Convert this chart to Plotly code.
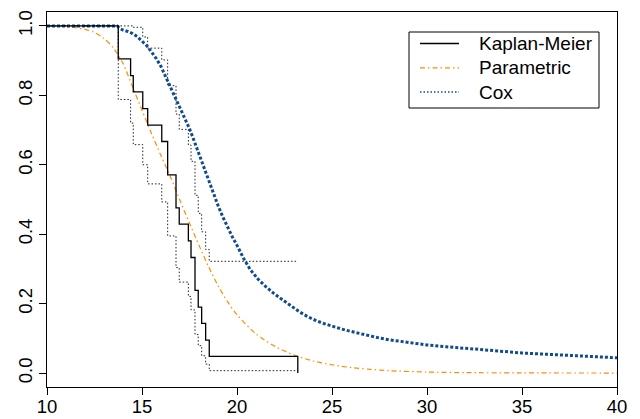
import plotly.graph_objects as go

# Kaplan-Meier step curve (time, survival)
km_time = [10, 13.75, 14.40, 14.54, 15.04, 15.30, 16.04, 16.35, 16.79, 16.96,
           17.44, 17.58, 17.79, 17.96, 18.14, 18.35, 18.54, 23.20]
km_surv = [1.0, 0.905, 0.857, 0.810, 0.762, 0.714, 0.667, 0.571, 0.476, 0.429,
           0.381, 0.333, 0.238, 0.190, 0.143, 0.095, 0.048, 0.0]

# Kaplan-Meier confidence limits
ci_time = [10, 13.75, 14.40, 14.54, 15.04, 15.30, 16.04, 16.35, 16.79, 16.96,
           17.44, 17.58, 17.79, 17.96, 18.14, 18.35, 18.54, 23.20]
ci_upper = [1.0, 1.0, 1.0, 0.996, 0.968, 0.936, 0.902, 0.828, 0.746, 0.702,
            0.657, 0.610, 0.512, 0.460, 0.407, 0.356, 0.322, 0.322]
ci_lower = [1.0, 0.788, 0.720, 0.658, 0.600, 0.545, 0.493, 0.395, 0.304, 0.262,
            0.221, 0.182, 0.111, 0.079, 0.050, 0.026, 0.007, 0.007]

# Parametric survival curve
par_time = [10, 11, 12, 12.5, 13, 13.5, 14, 14.5, 15, 15.5, 16, 16.5, 17, 17.5,
            18, 18.5, 19, 19.5, 20, 21, 22, 23, 24, 25, 26, 27, 28, 30, 32, 35, 40]
par_surv = [1.0, 0.998, 0.990, 0.981, 0.964, 0.936, 0.892, 0.825, 0.757, 0.690,
            0.626, 0.565, 0.497, 0.432, 0.368, 0.307, 0.252, 0.206, 0.168, 0.113,
            0.077, 0.052, 0.035, 0.024, 0.016, 0.011, 0.007, 0.003, 0.0015, 0.0006, 0.0002]

# Cox model survival curve
cox_time = [10, 13.7, 13.85, 14.0, 14.25, 14.5, 14.75, 15.0, 15.25, 15.5, 15.75,
            16.0, 16.25, 16.5, 16.75, 17.0, 17.25, 17.5, 17.75, 18.0, 18.25, 18.5,
            18.75, 19.0, 19.25, 19.5, 19.75, 20.0, 20.35, 20.7, 21.1, 21.5, 21.95,
            22.4, 22.85, 23.3, 23.65, 24.0, 24.5, 25, 25.5, 26, 26.5, 27, 27.5, 28,
            29, 30, 31, 32, 33, 34, 35, 36, 37, 38, 39, 40]
cox_surv = [1.0, 1.0, 0.992, 0.988, 0.984, 0.978, 0.969, 0.957, 0.943, 0.925, 0.906,
            0.883, 0.854, 0.822, 0.795, 0.766, 0.736, 0.704, 0.668, 0.630, 0.592, 0.555,
            0.518, 0.483, 0.450, 0.420, 0.393, 0.368, 0.330, 0.298, 0.271, 0.250, 0.229,
            0.211, 0.193, 0.176, 0.165, 0.155, 0.144, 0.135, 0.127, 0.120, 0.113, 0.106,
            0.101, 0.096, 0.088, 0.081, 0.076, 0.071, 0.066, 0.062, 0.058, 0.055, 0.052,
            0.049, 0.046, 0.044]

legend_names = ["Kaplan-Meier", "Parametric", "Cox"]

FONT = "Liberation Sans, Arial, Helvetica, sans-serif"
ORANGE = "#FF8C00"
BLUE = "#0F4C8E"

fig = go.Figure()

fig.add_trace(go.Scatter(x=ci_time, y=ci_upper, mode="lines", line_shape="hv",
                         line=dict(color="#222222", width=1, dash="1.5px,2px"),
                         showlegend=False, hoverinfo="skip"))
fig.add_trace(go.Scatter(x=ci_time, y=ci_lower, mode="lines", line_shape="hv",
                         line=dict(color="#222222", width=1, dash="1.5px,2px"),
                         showlegend=False, hoverinfo="skip"))
fig.add_trace(go.Scatter(x=par_time, y=par_surv, mode="lines", line_shape="spline",
                         line=dict(color=ORANGE, width=1.2, dash="5px,3px,1.5px,3px",
                                   smoothing=0.8),
                         showlegend=False))
fig.add_trace(go.Scatter(x=cox_time, y=cox_surv, mode="lines", line_shape="linear",
                         line=dict(color=BLUE, width=3, dash="3px,2px"),
                         showlegend=False))
fig.add_trace(go.Scatter(x=km_time, y=km_surv, mode="lines", line_shape="hv",
                         line=dict(color="black", width=1.3),
                         showlegend=False))

# custom R-style legend (paper coordinates)
L, R_, T, B = 409, 599, 32, 108
W, H = 640, 419
ml, mr, mt, mb = 47, 23, 12, 32
pw, ph = W - ml - mr, H - mt - mb

def px2paper_x(px):
    return (px - ml) / pw

def px2paper_y(py):
    return 1 - (py - mt) / ph

fig.add_shape(type="rect", xref="paper", yref="paper",
              x0=px2paper_x(L), x1=px2paper_x(R_), y0=px2paper_y(B), y1=px2paper_y(T),
              line=dict(color="black", width=1), fillcolor="white", layer="above")
styles = [dict(color="black", width=1.3),
          dict(color=ORANGE, width=1.2, dash="5px,3px,1.5px,3px"),
          dict(color=BLUE, width=1.3, dash="1.5px,2px")]
rows = [43.5, 67.8, 92.0]
for name, st, ry in zip(legend_names, styles, rows):
    fig.add_shape(type="line", xref="paper", yref="paper",
                  x0=px2paper_x(420), x1=px2paper_x(459),
                  y0=px2paper_y(ry), y1=px2paper_y(ry), line=st, layer="above")
    fig.add_annotation(x=px2paper_x(477), y=px2paper_y(ry), xref="paper", yref="paper",
                       text=name, showarrow=False, xanchor="left", yanchor="middle",
                       font=dict(family=FONT, size=19, color="black"))

fig.update_layout(
    width=W, height=H,
    margin=dict(l=ml, r=mr, t=mt, b=mb),
    paper_bgcolor="white", plot_bgcolor="white",
    font=dict(family=FONT, size=18.5, color="black"),
    showlegend=False,
)
fig.update_xaxes(range=[10, 40], tickvals=[10, 15, 20, 25, 30, 35, 40],
                 ticks="outside", ticklen=7, tickwidth=1, tickcolor="black",
                 ticklabelstandoff=-4, automargin=False,
                 showline=True, linecolor="black", linewidth=1, mirror=True,
                 showgrid=False, zeroline=False)
fig.update_yaxes(range=[-0.04, 1.04], tickvals=[0, 0.2, 0.4, 0.6, 0.8, 1.0],
                 tickformat=".1f", tickangle=-90, automargin=False,
                 ticks="outside", ticklen=7, tickwidth=1, tickcolor="black",
                 showline=True, linecolor="black", linewidth=1, mirror=True,
                 showgrid=False, zeroline=False)

fig.write_html("out.html")
